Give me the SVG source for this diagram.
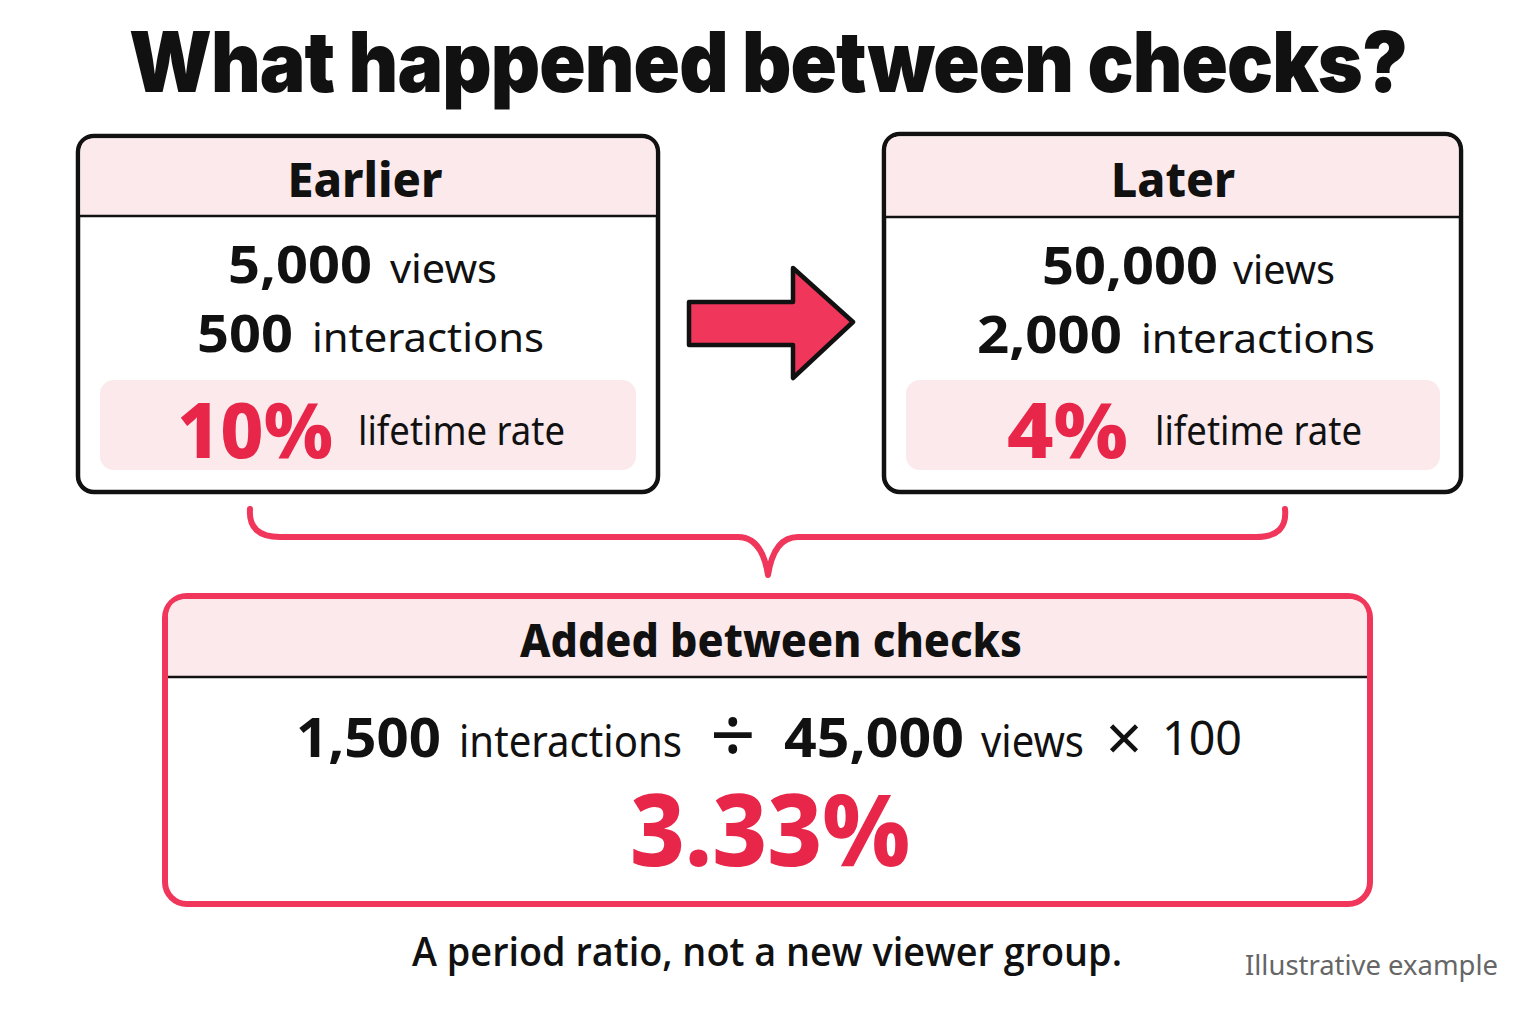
<svg xmlns="http://www.w3.org/2000/svg" width="1536" height="1024" viewBox="0 0 1536 1024">
<style>
  .title{font-family:Inter,"Noto Sans",sans-serif;font-weight:900;fill:#111}
  .hdr{font-family:"Noto Sans","Open Sans",sans-serif;font-weight:800;fill:#111}
  .num{font-family:"Noto Sans","Open Sans",sans-serif;font-weight:700;fill:#111}
  .lbl{font-family:"Noto Sans","Open Sans",sans-serif;font-weight:400;fill:#111}
  .red{font-family:"Noto Sans","Open Sans",sans-serif;font-weight:800;fill:#e8264a}
  .card{fill:#fff;stroke:#111;stroke-width:4.5}
  .band{fill:#fbe9ec}
  .rule{stroke:#111;stroke-width:2.5}
  .note{font-family:"Noto Sans","Open Sans",sans-serif;font-weight:400;fill:#666}
  .foot{font-family:"Open Sans","Noto Sans",sans-serif;font-weight:600;fill:#111}
</style>
<rect width="1536" height="1024" fill="#fff"/>
<text class="title" transform="translate(768,92) scale(0.912,1)" x="0" y="0" font-size="84" text-anchor="middle" letter-spacing="-1">What happened between checks?</text>

<g id="earlier">
  <rect class="card" x="78" y="136" width="580" height="356" rx="16"/>
  <path class="band" d="M94,138.5 H642 Q655.5,138.5 655.5,152 V216 H80.5 V152 Q80.5,138.5 94,138.5 Z"/>
  <line class="rule" x1="80" y1="216" x2="656" y2="216"/>
  <text class="hdr" x="365" y="197" font-size="48" text-anchor="middle" textLength="155" lengthAdjust="spacingAndGlyphs">Earlier</text>
  <text class="num" x="228" y="283" font-size="52" textLength="144" lengthAdjust="spacingAndGlyphs">5,000</text>
  <text class="lbl" x="390" y="283" font-size="40" textLength="107" lengthAdjust="spacingAndGlyphs">views</text>
  <text class="num" x="197" y="352" font-size="52" textLength="96" lengthAdjust="spacingAndGlyphs">500</text>
  <text class="lbl" x="312" y="352" font-size="40" textLength="232" lengthAdjust="spacingAndGlyphs">interactions</text>
  <rect class="band" x="100" y="380" width="536" height="90" rx="14"/>
  <text class="red" x="177" y="458" font-size="76" textLength="156" lengthAdjust="spacingAndGlyphs">10%</text>
  <text class="lbl" x="358" y="445" font-size="40" textLength="207" lengthAdjust="spacingAndGlyphs">lifetime rate</text>
</g>

<g id="later">
  <rect class="card" x="884" y="134" width="577" height="358" rx="16"/>
  <path class="band" d="M900,136.5 H1445 Q1458.5,136.5 1458.5,150 V217 H886.5 V150 Q886.5,136.5 900,136.5 Z"/>
  <line class="rule" x1="886" y1="217" x2="1459" y2="217"/>
  <text class="hdr" x="1173" y="197" font-size="48" text-anchor="middle" textLength="124" lengthAdjust="spacingAndGlyphs">Later</text>
  <text class="num" x="1042" y="284" font-size="52" textLength="176" lengthAdjust="spacingAndGlyphs">50,000</text>
  <text class="lbl" x="1233" y="284" font-size="40" textLength="102" lengthAdjust="spacingAndGlyphs">views</text>
  <text class="num" x="977" y="353" font-size="52" textLength="145" lengthAdjust="spacingAndGlyphs">2,000</text>
  <text class="lbl" x="1141" y="353" font-size="40" textLength="234" lengthAdjust="spacingAndGlyphs">interactions</text>
  <rect class="band" x="906" y="380" width="534" height="90" rx="14"/>
  <text class="red" x="1007" y="458" font-size="76" textLength="121" lengthAdjust="spacingAndGlyphs">4%</text>
  <text class="lbl" x="1155" y="445" font-size="40" textLength="207" lengthAdjust="spacingAndGlyphs">lifetime rate</text>
</g>

<g id="connectors">
  <path id="arrow" d="M689,302 H793 V268 L853,322 L793,378 V345 H689 Z" fill="#f0365a" stroke="#111" stroke-width="4.5" stroke-linejoin="round"/>
  <path id="brace" d="M250,509 Q248,537 280,537 H738 Q762,537 768,575 Q774,537 798,537 H1256 Q1288,537 1285,509" fill="none" stroke="#f0365a" stroke-width="6" stroke-linecap="round" stroke-linejoin="round"/>
</g>

<g id="added">
  <rect x="165" y="596" width="1205" height="308" rx="22" fill="#fff" stroke="#f0365a" stroke-width="6"/>
  <path class="band" d="M187,599 H1348 Q1367,599 1367,618 V677 H168 V618 Q168,599 187,599 Z"/>
  <line class="rule" x1="168" y1="677" x2="1367" y2="677" stroke-width="2"/>
  <text class="hdr" x="771" y="657" font-size="46" text-anchor="middle" textLength="502" lengthAdjust="spacingAndGlyphs">Added between checks</text>
  <text class="num" x="296" y="757" font-size="54" textLength="145" lengthAdjust="spacingAndGlyphs">1,500</text>
  <text class="lbl" x="459" y="757" font-size="44" textLength="223" lengthAdjust="spacingAndGlyphs">interactions</text>
  <text class="lbl" x="733" y="764" font-size="80" text-anchor="middle">÷</text>
  <text class="num" x="784" y="757" font-size="54" textLength="180" lengthAdjust="spacingAndGlyphs">45,000</text>
  <text class="lbl" x="981" y="757" font-size="44" textLength="103" lengthAdjust="spacingAndGlyphs">views</text>
  <text class="lbl" x="1124" y="761" font-size="64" text-anchor="middle">×</text>
  <text class="lbl" x="1162" y="755" font-size="48" textLength="80" lengthAdjust="spacingAndGlyphs">100</text>
  <text class="red" x="630" y="866" font-size="100" textLength="280" lengthAdjust="spacingAndGlyphs">3.33%</text>
</g>

<text class="foot" x="412" y="966" font-size="40" textLength="710" lengthAdjust="spacingAndGlyphs">A period ratio, not a new viewer group.</text>
<text class="note" x="1245" y="975" font-size="28" textLength="253" lengthAdjust="spacingAndGlyphs">Illustrative example</text>
</svg>
